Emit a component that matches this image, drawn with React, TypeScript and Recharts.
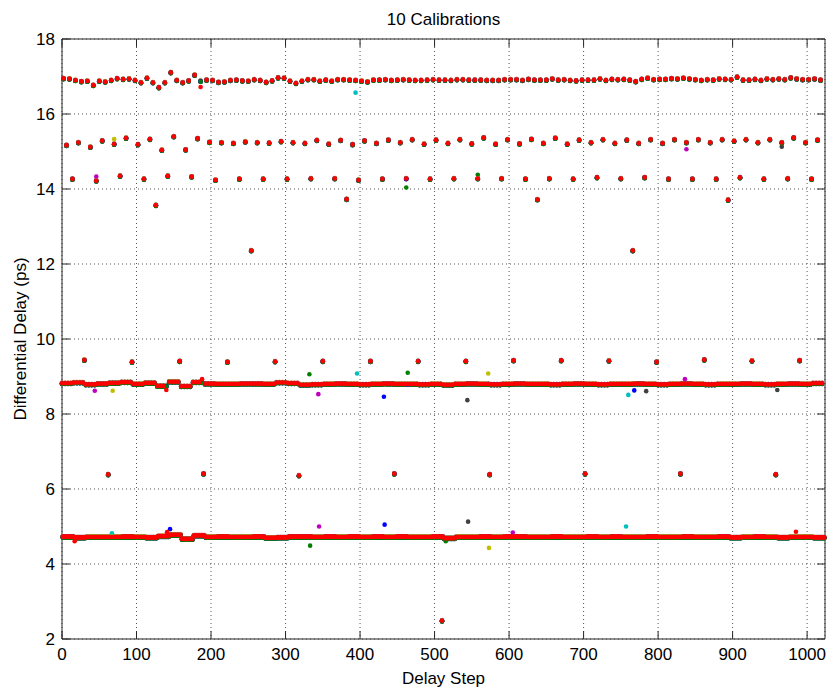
import { ScatterChart, Scatter, XAxis, YAxis, CartesianGrid, ReferenceArea, ReferenceLine } from "recharts"

const calibrations = ["1", "2", "3", "4", "5", "6", "7", "8", "9", "10"]
// matlab default colour order, wraps after seven
const calibrationColors = ["#0000ff", "#008000", "#ff0000", "#00bfbf", "#bf00bf", "#bfbf00", "#404040", "#0000ff", "#008000", "#ff0000"]
// how far each calibration sits from the row mean (ps)
const calibrationShift = [-0.02, -0.015, 0.012, 0.008, -0.01, 0.005, -0.015, -0.005, -0.02, 0]

const stepCount = 1024
const xTicks = [0, 100, 200, 300, 400, 500, 600, 700, 800, 900, 1000]
const yTicks = [2, 4, 6, 8, 10, 12, 14, 16, 18]

// dense rows, one level per 16-step block
const band47 = [
  4.73, 4.71, 4.72, 4.72, 4.72, 4.73, 4.72, 4.71, 4.74, 4.78, 4.67, 4.76, 4.72, 4.73, 4.72, 4.72,
  4.73, 4.70, 4.71, 4.73, 4.73, 4.72, 4.73, 4.72, 4.73, 4.72, 4.73, 4.72, 4.73, 4.72, 4.72, 4.73,
  4.69, 4.72, 4.72, 4.73, 4.72, 4.73, 4.73, 4.72, 4.72, 4.73, 4.72, 4.72, 4.73, 4.72, 4.73, 4.72,
  4.72, 4.73, 4.72, 4.72, 4.73, 4.72, 4.72, 4.73, 4.71, 4.72, 4.73, 4.72, 4.71, 4.72, 4.72, 4.71,
]
const band88 = [
  8.82, 8.84, 8.79, 8.81, 8.83, 8.85, 8.80, 8.83, 8.75, 8.86, 8.74, 8.85, 8.81, 8.80, 8.80, 8.81,
  8.81, 8.80, 8.84, 8.82, 8.78, 8.79, 8.80, 8.81, 8.80, 8.79, 8.80, 8.81, 8.80, 8.80, 8.79, 8.80,
  8.78, 8.80, 8.81, 8.80, 8.79, 8.80, 8.81, 8.80, 8.80, 8.79, 8.80, 8.81, 8.80, 8.79, 8.80, 8.80,
  8.81, 8.80, 8.79, 8.80, 8.81, 8.80, 8.79, 8.80, 8.80, 8.81, 8.80, 8.79, 8.80, 8.81, 8.80, 8.82,
]

// sparse rows, one value per point
const row169 = [
  16.95, 16.94, 16.90, 16.87, 16.88, 16.77, 16.88, 16.86, 16.90, 16.95, 16.93, 16.94, 16.90, 16.84, 16.96, 16.84,
  16.71, 16.84, 17.11, 16.90, 16.84, 16.89, 17.04, 16.88, 16.91, 16.90, 16.85, 16.86, 16.90, 16.91, 16.89, 16.88,
  16.92, 16.90, 16.85, 16.89, 16.97, 16.96, 16.88, 16.82, 16.88, 16.92, 16.92, 16.88, 16.91, 16.88, 16.92, 16.92,
  16.91, 16.90, 16.88, 16.86, 16.91, 16.91, 16.92, 16.90, 16.91, 16.92, 16.91, 16.90, 16.90, 16.91, 16.92, 16.91,
  16.91, 16.90, 16.92, 16.92, 16.91, 16.91, 16.91, 16.90, 16.90, 16.90, 16.92, 16.92, 16.92, 16.90, 16.93, 16.91,
  16.91, 16.91, 16.94, 16.91, 16.92, 16.90, 16.89, 16.91, 16.91, 16.91, 16.94, 16.90, 16.93, 16.92, 16.93, 16.91,
  16.87, 16.93, 16.96, 16.92, 16.93, 16.93, 16.95, 16.94, 16.96, 16.94, 16.92, 16.90, 16.92, 16.91, 16.94, 16.93,
  16.92, 16.99, 16.91, 16.91, 16.93, 16.90, 16.94, 16.92, 16.94, 16.92, 16.97, 16.94, 16.92, 16.92, 16.94, 16.91,
]
const row153 = [
  15.17, 15.24, 15.12, 15.29, 15.20, 15.36, 15.19, 15.33, 15.04, 15.40, 15.05, 15.35, 15.25, 15.24, 15.22, 15.26,
  15.24, 15.23, 15.27, 15.24, 15.22, 15.30, 15.20, 15.30, 15.19, 15.29, 15.22, 15.31, 15.24, 15.32, 15.20, 15.31,
  15.22, 15.32, 15.21, 15.37, 15.20, 15.32, 15.21, 15.33, 15.22, 15.36, 15.20, 15.31, 15.24, 15.32, 15.22, 15.31,
  15.22, 15.32, 15.22, 15.32, 15.24, 15.32, 15.24, 15.32, 15.28, 15.32, 15.24, 15.32, 15.24, 15.37, 15.24, 15.31,
]
const row143 = [
  14.27, 14.22, 14.35, 14.27, 14.35, 14.33, 14.24, 14.27, 14.27, 14.27, 14.28, 14.28, 14.24, 14.27, 14.28, 14.27,
  14.28, 14.28, 14.28, 14.27, 14.28, 14.27, 14.31, 14.28, 14.31, 14.27, 14.27, 14.27, 14.31, 14.27, 14.28, 14.27,
]
const row94 = [9.44, 9.39, 9.41, 9.39, 9.40, 9.41, 9.41, 9.41, 9.41, 9.43, 9.43, 9.42, 9.39, 9.45, 9.42, 9.43]
const row64 = [6.39, 6.41, 6.36, 6.41, 6.39, 6.41, 6.41, 6.39]
const row137 = [13.57, 13.73, 13.72, 13.71]
const row124 = [12.36, 12.36]
const row25 = [2.49]

// [calibration, step, value] points that leave their row
const outliers: [number, number, number][] = [
  [2, 332, 9.06], [5, 344, 8.53], [4, 396, 9.08], [1, 432, 8.46], [9, 464, 9.1], [6, 572, 9.08],
  [7, 544, 8.37], [5, 44, 8.62], [6, 68, 8.62], [10, 188, 8.93], [10, 140, 8.64], [4, 760, 8.51],
  [7, 784, 8.61], [8, 768, 8.63], [7, 960, 8.64], [5, 836, 8.93],
  [10, 17, 4.61], [4, 67, 4.82], [1, 145, 4.93], [10, 141, 4.85], [5, 345, 5.0], [2, 333, 4.49],
  [8, 433, 5.05], [7, 545, 5.13], [6, 573, 4.43], [5, 605, 4.84], [9, 515, 4.61], [4, 757, 5.0],
  [10, 985, 4.86],
  [10, 186, 16.72], [4, 394, 16.57], [5, 838, 15.06], [6, 70, 15.33], [7, 966, 15.13],
  [9, 462, 14.04], [2, 558, 14.38], [5, 46, 14.33],
]

const sparseRows = [row169, row153, row143, row94, row64, row137, row124, row25]

function trailingZeros(v: number) {
  let k = 0
  while (v % 2 === 0) {
    v /= 2
    k++
  }
  return k
}

// which row a step falls in depends on how many bits flip
function rowValue(step: number): number | undefined {
  const tz = trailingZeros(step + 2)
  if (tz === 0) return band47[Math.floor(step / 16)]
  if (tz === 1) return band88[Math.floor(step / 16)]
  const row = sparseRows[tz - 2]
  if (!row) return undefined
  return row[Math.floor((step + 2) / 2 ** (tz + 1))]
}

const outlierMap = new Map(outliers.map(([c, s, v]) => [`${c}-${s}`, v]))

const series = calibrations.map((name, ci) => {
  const data: { x: number; y: number }[] = []
  for (let step = 0; step < stepCount; step++) {
    const base = rowValue(step)
    if (base === undefined) continue
    const own = outlierMap.get(`${ci + 1}-${step}`)
    data.push({ x: step, y: own ?? +(base + calibrationShift[ci]).toFixed(3) })
  }
  return { name, color: calibrationColors[ci], data }
})

const tickLenX = 10.7
const tickLenY = 0.21
const axisColor = "#262626"
const font = { fontSize: 17, fill: "#000" }

export default function App() {
  return (
    <div
      style={{
        position: "absolute",
        left: 0,
        top: 0,
        width: 829,
        height: 690,
        background: "#fff",
        fontFamily: '"Liberation Sans", Arial, sans-serif',
      }}
    >
      <div
        style={{
          position: "absolute",
          left: 62,
          width: 763,
          top: 11,
          textAlign: "center",
          fontSize: 17,
          lineHeight: "17px",
          color: "#000",
        }}
      >
        10 Calibrations
      </div>
      <ScatterChart width={829} height={690} margin={{ top: 39, right: 4, bottom: 0, left: 0 }}>
        <CartesianGrid stroke="#555" strokeDasharray="1 3" />
        <XAxis
          type="number"
          dataKey="x"
          domain={[0, 1024]}
          ticks={xTicks}
          height={51}
          tickLine={false}
          axisLine={false}
          tickSize={0}
          tickMargin={9}
          tick={font}
          label={{ value: "Delay Step", position: "insideBottom", offset: 6, ...font }}
        />
        <YAxis
          type="number"
          dataKey="y"
          domain={[2, 18]}
          ticks={yTicks}
          width={62}
          tickLine={false}
          axisLine={false}
          tickSize={0}
          tickMargin={7}
          tick={font}
          label={{
            value: "Differential Delay (ps)",
            angle: -90,
            position: "insideLeft",
            offset: 20,
            ...font,
            style: { textAnchor: "middle" },
          }}
        />
        {series.map((s) => (
          <Scatter
            key={s.name}
            name={s.name}
            data={s.data}
            isAnimationActive={false}
            shape={(p: any) => <circle cx={p.cx} cy={p.cy} r={2.3} fill={s.color} />}
          />
        ))}
        <ReferenceArea x1={0} x2={1024} y1={2} y2={18} fill="none" fillOpacity={0} stroke={axisColor} ifOverflow="visible" />
        {xTicks.map((t) => (
          <ReferenceLine key={`xb${t}`} segment={[{ x: t, y: 2 }, { x: t, y: 2 + tickLenY }]} stroke={axisColor} />
        ))}
        {xTicks.map((t) => (
          <ReferenceLine key={`xt${t}`} segment={[{ x: t, y: 18 }, { x: t, y: 18 - tickLenY }]} stroke={axisColor} />
        ))}
        {yTicks.map((t) => (
          <ReferenceLine key={`yl${t}`} segment={[{ x: 0, y: t }, { x: tickLenX, y: t }]} stroke={axisColor} />
        ))}
        {yTicks.map((t) => (
          <ReferenceLine key={`yr${t}`} segment={[{ x: 1024, y: t }, { x: 1024 - tickLenX, y: t }]} stroke={axisColor} />
        ))}
      </ScatterChart>
    </div>
  )
}
